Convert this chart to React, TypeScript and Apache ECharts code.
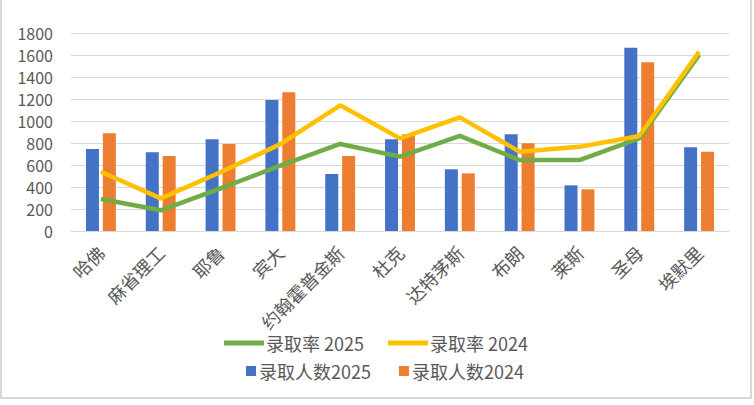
import React, { useEffect, useRef } from "react";
import * as echarts from "echarts";

const categories = ["哈佛", "麻省理工", "耶鲁", "宾大", "约翰霍普金斯", "杜克", "达特茅斯", "布朗", "莱斯", "圣母", "埃默里"];
const admitted2025 = [745, 715, 833, 1191, 518, 833, 561, 879, 415, 1667, 761];
const admitted2024 = [888, 682, 791, 1261, 682, 879, 524, 797, 379, 1533, 721];
const rate2025 = [291, 188, 388, 595, 791, 676, 864, 645, 645, 842, 1600];
const rate2024 = [539, 297, 534, 790, 1143, 842, 1033, 721, 765, 864, 1630];
const yTicks = { min: 0, max: 1800, interval: 200 };

const FONT = "'Noto Sans CJK SC', 'Liberation Sans', sans-serif";
const TXT = "#595959";

export default function App() {
  const ref = useRef<HTMLDivElement>(null);
  useEffect(() => {
    if (!ref.current) return;
    const chart = echarts.init(ref.current, null, { renderer: "svg" });
    chart.setOption({
      animation: false,
      backgroundColor: "#ffffff",
      textStyle: { fontFamily: FONT },
      grid: { left: 71, right: 25, top: 33, bottom: 174, containLabel: false },
      graphic: [
        {
          type: "rect",
          shape: { x: 1, y: -10, width: 750, height: 408 },
          style: { fill: "none", stroke: "#d9d9d9", lineWidth: 2 },
          silent: true,
        },
      ],
      legend: [
        {
          data: ["录取率 2025", "录取率 2024"],
          left: 219,
          top: 329,
          icon: "rect",
          itemWidth: 40,
          itemHeight: 5,
          itemGap: 24,
          textStyle: { fontSize: 18, color: TXT, fontFamily: FONT, padding: [0, 0, 0, -3] },
        },
        {
          data: ["录取人数2025", "录取人数2024"],
          left: 241,
          top: 357,
          icon: "rect",
          itemWidth: 10,
          itemHeight: 10,
          itemGap: 28,
          textStyle: { fontSize: 18, color: TXT, fontFamily: FONT, padding: [0, 0, 0, -2] },
        },
      ],
      xAxis: {
        type: "category",
        data: categories,
        axisTick: { show: false },
        axisLine: { lineStyle: { color: "#d9d9d9", width: 1 } },
        axisLabel: { rotate: 45, fontSize: 18, color: TXT, fontFamily: FONT, margin: 18, interval: 0 },
      },
      yAxis: {
        type: "value",
        min: yTicks.min,
        max: yTicks.max,
        interval: yTicks.interval,
        axisLine: { show: false },
        axisTick: { show: false },
        splitLine: { lineStyle: { color: "#d9d9d9", width: 1 } },
        axisLabel: {
          fontSize: 16,
          color: TXT,
          fontFamily: FONT,
          margin: 18,
          formatter: (v: number) => String(v),
        },
      },
      series: [
        {
          name: "录取人数2025",
          type: "bar",
          data: admitted2025,
          barWidth: 13,
          barGap: "30%",
          itemStyle: { color: "#4472C4" },
        },
        {
          name: "录取人数2024",
          type: "bar",
          data: admitted2024,
          barWidth: 13,
          barGap: "30%",
          itemStyle: { color: "#ED7D31" },
        },
        {
          name: "录取率 2025",
          type: "line",
          data: rate2025,
          showSymbol: false,
          symbol: "none",
          z: 5,
          lineStyle: { color: "#70AD47", width: 4.5 },
          itemStyle: { color: "#70AD47" },
        },
        {
          name: "录取率 2024",
          type: "line",
          data: rate2024,
          showSymbol: false,
          symbol: "none",
          z: 6,
          lineStyle: { color: "#FFC000", width: 4.5 },
          itemStyle: { color: "#FFC000" },
        },
      ],
    });
    return () => chart.dispose();
  }, []);
  return (
    <div
      ref={ref}
      style={{ position: "absolute", left: 0, top: 0, width: 754, height: 405 }}
    />
  );
}
